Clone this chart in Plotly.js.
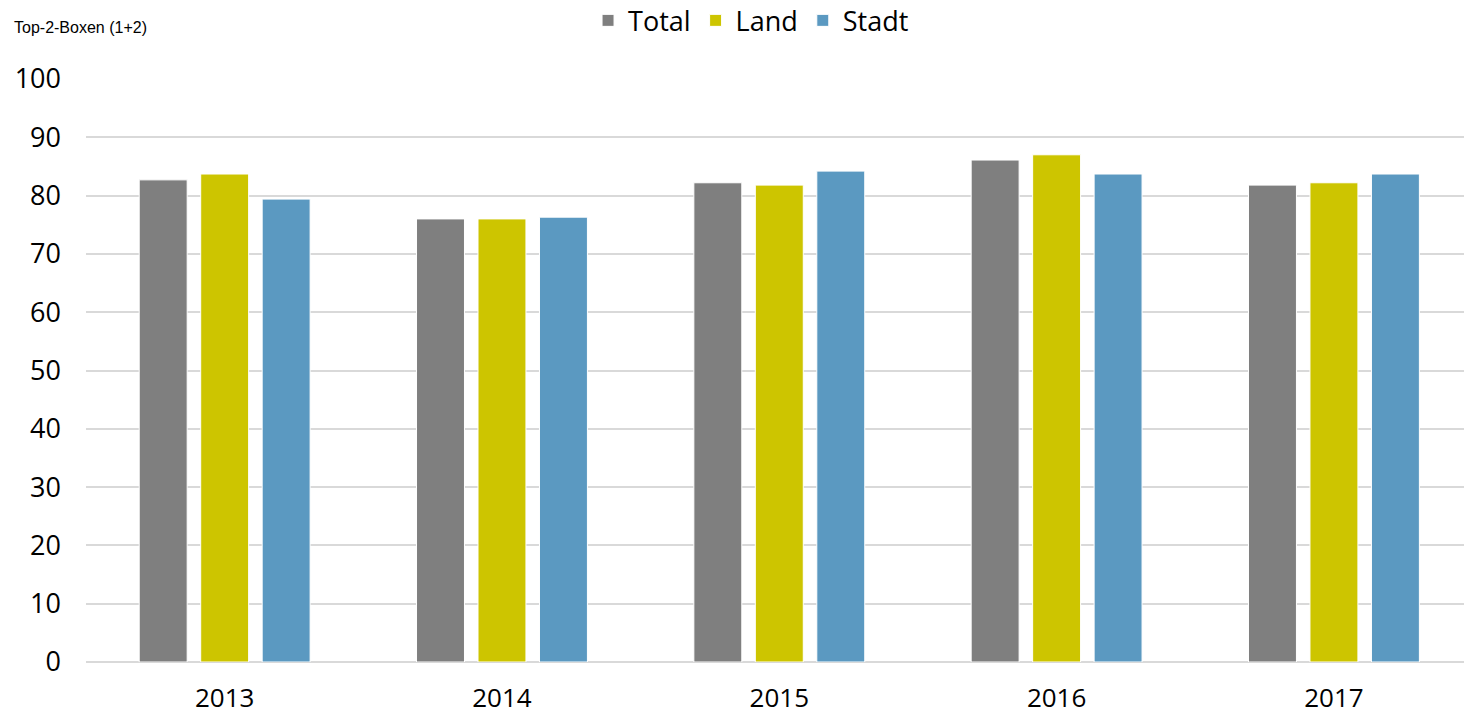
<!DOCTYPE html>
<html>
<head>
<meta charset="utf-8">
<script src="https://cdn.plot.ly/plotly-3.0.1.min.js"></script>
<style>html,body{margin:0;padding:0;background:#fff;}#chart{width:1464px;height:718px;}</style>
</head>
<body>
<div id="chart"></div>
<script>
const years = ["2013", "2014", "2015", "2016", "2017"];
const totalValues = [82.7, 76.0, 82.2, 86.1, 81.8];
const landValues = [83.7, 76.0, 81.8, 87.0, 82.2];
const stadtValues = [79.4, 76.3, 84.2, 83.7, 83.7];
const yTicks = [0, 10, 20, 30, 40, 50, 60, 70, 80, 90, 100];

const FONT = '"Open Sans", "Noto Sans", sans-serif';

const traces = [
  {type: 'bar', name: 'Total', x: years, y: totalValues, marker: {color: '#7f7f7f', line: {color: '#ffffff', width: 1}}},
  {type: 'bar', name: 'Land', x: years, y: landValues, marker: {color: '#cdc500', line: {color: '#ffffff', width: 1}}},
  {type: 'bar', name: 'Stadt', x: years, y: stadtValues, marker: {color: '#5b99c1', line: {color: '#ffffff', width: 1}}}
];

const layout = {
  width: 1464, height: 718,
  margin: {l: 86, r: 0, t: 79, b: 56, autoexpand: false},
  paper_bgcolor: '#ffffff', plot_bgcolor: '#ffffff',
  barmode: 'group', bargap: 0.335, bargroupgap: 0.22,
  showlegend: true,
  legend: {orientation: 'h', xref: 'container', x: 0.513, xanchor: 'center', yref: 'container', y: 0.971, yanchor: 'middle',
           font: {family: FONT, size: 27, color: '#000'}, itemwidth: 30, tracegroupgap: 0, traceorder: 'normal'},
  xaxis: {type: 'category', range: [-0.5, 4.469], showgrid: false, zeroline: false, showline: false,
          ticks: '', tickfont: {family: FONT, size: 26, color: '#000'}, ticklabelstandoff: 18, fixedrange: true},
  yaxis: {range: [0, 100], tickvals: yTicks, ticktext: yTicks.map(String), showgrid: true, gridcolor: '#d9d9d9', gridwidth: 2,
          zeroline: true, zerolinecolor: '#d9d9d9', zerolinewidth: 2, showline: false, ticks: '', ticklen: 0,
          tickfont: {family: FONT, size: 27, color: '#000'}, ticklabelstandoff: 24, fixedrange: true},
  annotations: [
    {text: 'Top-2-Boxen (1+2)', xref: 'paper', yref: 'paper', x: -0.054, y: 1.089,
     xanchor: 'left', yanchor: 'middle', showarrow: false,
     font: {family: 'Liberation Sans, Arial, sans-serif', size: 16, color: '#000'}}
  ]
};

Plotly.newPlot('chart', traces, layout, {displayModeBar: false, staticPlot: true});
</script>
</body>
</html>
